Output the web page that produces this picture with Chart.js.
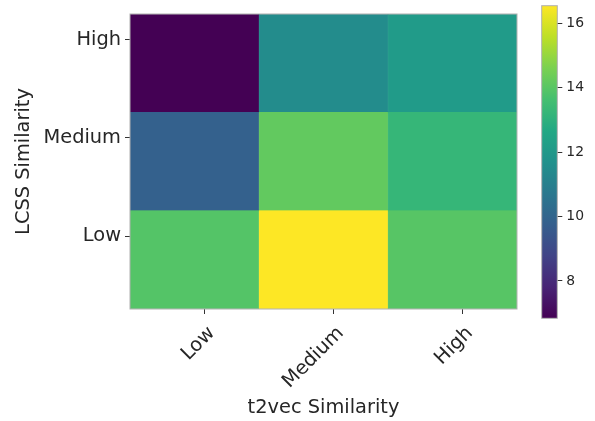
<!DOCTYPE html>
<html>
<head>
<meta charset="utf-8">
<script src="https://cdn.jsdelivr.net/npm/chart.js@4"></script>
<style>
  html, body { margin: 0; padding: 0; background: #fff; }
  #wrap { position: relative; width: 595px; height: 421px; }
  #heat { position: absolute; left: 0; top: 0; }
  #cbar { position: absolute; left: 530px; top: 0; }
</style>
</head>
<body>
<div id="wrap">
  <canvas id="heat" width="530" height="421"></canvas>
  <canvas id="cbar" width="65" height="421"></canvas>
</div>
<script>
// t2vec similarity (columns) and LCSS similarity (rows)
const colLabels = ['Low', 'Medium', 'High'];
const rowLabels = ['Low', 'Medium', 'High'];   // bottom to top

// cell values, one array per LCSS row
const valsLow = [13.93, 16.55, 13.98];
const valsMedium = [9.85, 14.17, 13.25];
const valsHigh = [6.84, 11.5, 12.1];

// tick places (they sit a bit off the cell centres in the original)
const xTickPos = [0.58, 1.58, 2.58];
const yTickPos = [0.74, 1.74, 2.74];

// colour bar range and ticks
const vMin = 6.84;
const vMax = 16.55;
const cbarTicks = [8, 10, 12, 14, 16];

const viridis = ['#440154', '#482475', '#414487', '#355f8d', '#2a788e', '#21918c',
  '#22a884', '#44bf70', '#7ad151', '#bddf26', '#fde725'];

function hexRgb(h) {
  return [parseInt(h.substr(1, 2), 16), parseInt(h.substr(3, 2), 16), parseInt(h.substr(5, 2), 16)];
}
function viridisColor(v) {
  let t = (v - vMin) / (vMax - vMin);
  t = Math.max(0, Math.min(1, t));
  const p = t * (viridis.length - 1);
  const i = Math.min(Math.floor(p), viridis.length - 2);
  const f = p - i;
  const a = hexRgb(viridis[i]), b = hexRgb(viridis[i + 1]);
  const c = a.map((x, k) => Math.round(x + (b[k] - x) * f));
  return 'rgb(' + c.join(',') + ')';
}

const FONT = 'DejaVu Sans';
const TXT = '#262626';

const rows = [valsLow, valsMedium, valsHigh];

const frame = {
  id: 'frame',
  afterDatasetsDraw(chart) {
    const a = chart.chartArea, ctx = chart.ctx;
    ctx.save();
    ctx.strokeStyle = '#b0b0b0';
    ctx.lineWidth = 1;
    ctx.strokeRect(a.left, a.top, a.right - a.left, a.bottom - a.top);
    ctx.restore();
  }
};

function noPad(s) {
  s.paddingTop = 0; s.paddingBottom = 0; s.paddingLeft = 0; s.paddingRight = 0;
}

new Chart(document.getElementById('heat'), {
  type: 'bar',
  data: {
    labels: colLabels,
    datasets: rows.map((vals, r) => ({
      label: rowLabels[r],
      data: vals.map(() => 1),
      backgroundColor: vals.map(viridisColor),
      borderColor: vals.map(viridisColor),
      borderWidth: 0.5,
      borderSkipped: false,
      barPercentage: 1,
      categoryPercentage: 1
    }))
  },
  options: {
    responsive: false,
    animation: false,
    layout: { padding: { left: 0, top: 14, right: 13, bottom: 0 } },
    plugins: { legend: { display: false }, tooltip: { enabled: false } },
    scales: {
      x: { display: false, stacked: true },
      xt: {
        type: 'linear', position: 'bottom', min: 0, max: 3, offset: false,
        afterBuildTicks: s => { s.ticks = xTickPos.map(v => ({ value: v })); },
        afterFit: s => { s.height = 112; noPad(s); },
        grid: { offset: false, drawOnChartArea: false, drawTicks: true, tickLength: 5, tickColor: '#333' },
        border: { display: false },
        ticks: {
          minRotation: 45, maxRotation: 45, padding: 8, labelOffset: 7,
          color: TXT, font: { family: FONT, size: 19.4 },
          callback: v => colLabels[xTickPos.indexOf(v)]
        },
        title: { display: true, text: 't2vec Similarity', color: TXT,
          font: { family: FONT, size: 19.4 }, padding: { top: 4, bottom: 1 } }
      },
      y: {
        min: 0, max: 3, stacked: true,
        afterBuildTicks: s => { s.ticks = yTickPos.map(v => ({ value: v })); },
        afterFit: s => { s.width = 130; noPad(s); },
        grid: { drawOnChartArea: false, drawTicks: true, tickLength: 5, tickColor: '#333' },
        border: { display: false },
        ticks: {
          padding: 4, color: TXT, font: { family: FONT, size: 19.4 },
          callback: v => rowLabels[yTickPos.indexOf(v)]
        },
        title: { display: true, text: 'LCSS Similarity', color: TXT,
          font: { family: FONT, size: 19.4 }, padding: { top: 12, bottom: 12 } }
      }
    }
  },
  plugins: [frame]
});

// colour bar
new Chart(document.getElementById('cbar'), {
  type: 'bar',
  data: {
    labels: [''],
    datasets: [{
      data: [[vMin, vMax]],
      backgroundColor: ctx => {
        const a = ctx.chart.chartArea;
        if (!a) return viridis[5];
        const g = ctx.chart.ctx.createLinearGradient(0, a.bottom, 0, a.top);
        viridis.forEach((c, i) => g.addColorStop(i / (viridis.length - 1), c));
        return g;
      },
      borderWidth: 0,
      barPercentage: 1,
      categoryPercentage: 1
    }]
  },
  options: {
    responsive: false,
    animation: false,
    layout: { padding: { left: 11.7, top: 5.7, right: 0, bottom: 102.7 } },
    plugins: { legend: { display: false }, tooltip: { enabled: false } },
    scales: {
      x: { display: false },
      y: {
        position: 'right', min: vMin, max: vMax,
        afterBuildTicks: s => { s.ticks = cbarTicks.map(v => ({ value: v })); },
        afterFit: s => { s.width = 37.7; noPad(s); },
        grid: { drawOnChartArea: false, drawTicks: true, tickLength: 5, tickColor: '#333' },
        border: { display: false },
        ticks: { padding: 4, color: TXT, font: { family: FONT, size: 13.9 } }
      }
    }
  },
  plugins: [frame]
});
</script>
</body>
</html>
